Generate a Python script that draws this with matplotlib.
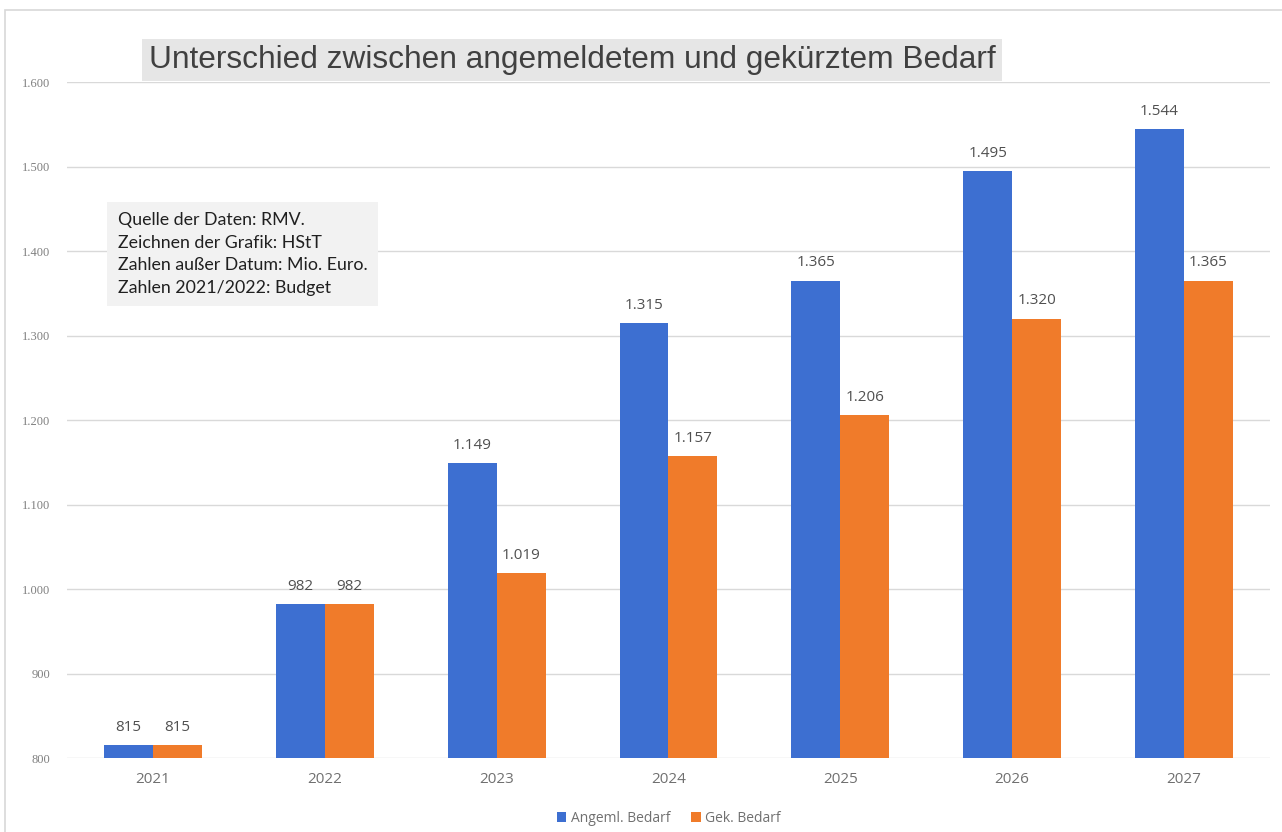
import matplotlib.pyplot as plt
import matplotlib.patches as mpatches
import numpy as np

years = ['2021', '2022', '2023', '2024', '2025', '2026', '2027']
angemeldet = [815, 982, 1149, 1315, 1365, 1495, 1544]
gekuerzt = [815, 982, 1019, 1157, 1206, 1320, 1365]
y_ticks = [800, 900, 1000, 1100, 1200, 1300, 1400, 1500, 1600]

blue = '#3d6fd1'
orange = '#f07b2a'


def de_fmt(v):
    # German thousands separator
    return f'{v:,.0f}'.replace(',', '.')


fig = plt.figure(figsize=(12.82, 8.32), dpi=100)
ax = fig.add_axes([0.0523, 0.0889, 0.9383, 0.8125])

# outer frame of the chart
fig.patches.append(mpatches.Rectangle((5 / 1282, -0.01), 1.02, 1 - 10 / 832 + 0.01,
                                      transform=fig.transFigure, fill=False,
                                      edgecolor='#d8d8d8', linewidth=1.2))

x = np.arange(len(years))
w = 0.285
ax.bar(x - w / 2, np.array(angemeldet) - 800, w, bottom=800, color=blue,
       label='Angeml. Bedarf', zorder=3)
ax.bar(x + w / 2, np.array(gekuerzt) - 800, w, bottom=800, color=orange,
       label='Gek. Bedarf', zorder=3)

for xi, v in zip(x, angemeldet):
    ax.text(xi - w / 2, v + 12, de_fmt(v), ha='center', va='bottom',
            fontsize=11, color='#505050', family='Open Sans')
for xi, v in zip(x, gekuerzt):
    ax.text(xi + w / 2, v + 12, de_fmt(v), ha='center', va='bottom',
            fontsize=11, color='#505050', family='Open Sans')

ax.set_ylim(800, 1600)
ax.set_xlim(-0.5, len(years) - 0.5)
ax.set_yticks(y_ticks)
ax.set_yticklabels([de_fmt(t) for t in y_ticks], fontsize=9, color='#808080',
                   family='Liberation Serif')
ax.set_xticks(x)
ax.set_xticklabels(years, fontsize=11, color='#707070', family='Open Sans')
ax.tick_params(axis='both', length=0, pad=10)
ax.tick_params(axis='y', pad=12)
ax.grid(axis='y', color='#d9d9d9', linewidth=1, zorder=0)
for s in ax.spines.values():
    s.set_visible(False)

fig.text(572 / 1282, 1 - 60 / 832, 'Unterschied zwischen angemeldetem und gekürztem Bedarf',
         ha='center', va='center', fontsize=22.8, color='#404040', family='Liberation Sans',
         bbox=dict(boxstyle='square,pad=0.2', facecolor='#e6e6e6', edgecolor='none'))

fig.text(118 / 1282, 1 - 254 / 832,
         'Quelle der Daten: RMV.\nZeichnen der Grafik: HStT\n'
         'Zahlen außer Datum: Mio. Euro.\nZahlen 2021/2022: Budget',
         ha='left', va='center', fontsize=12.8, color='#202020', family='Lato',
         linespacing=1.5,
         bbox=dict(boxstyle='square,pad=0.6', facecolor='#f2f2f2', edgecolor='none'))

leg = ax.legend(loc='upper center', bbox_to_anchor=(0.5, -0.06), ncol=2, frameon=False,
                handlelength=0.7, handleheight=0.7, handletextpad=0.3,
                columnspacing=1.5, prop={'family': 'Open Sans', 'size': 10})
for t in leg.get_texts():
    t.set_color('#707070')

fig.savefig('out.png', dpi=100, facecolor='white')
